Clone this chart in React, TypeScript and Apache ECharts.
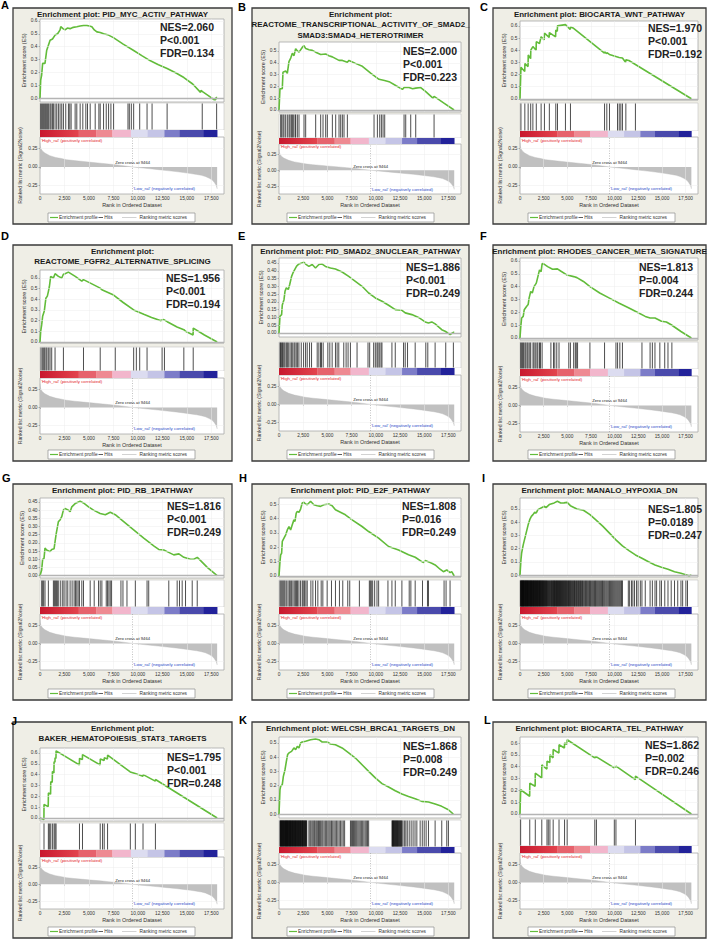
import React, { useEffect, useRef } from "react";
import * as echarts from "echarts";

// ---------------- DATA ----------------
const panelLetters = ["A", "B", "C", "D", "E", "F", "G", "H", "I", "J", "K", "L"];
const panelTitles: string[][] = [
  ["Enrichment plot: PID_MYC_ACTIV_PATHWAY"],
  ["Enrichment plot:", "REACTOME_TRANSCRIPTIONAL_ACTIVITY_OF_SMAD2_", "SMAD3:SMAD4_HETEROTRIMER"],
  ["Enrichment plot: BIOCARTA_WNT_PATHWAY"],
  ["Enrichment plot:", "REACTOME_FGFR2_ALTERNATIVE_SPLICING"],
  ["Enrichment plot: PID_SMAD2_3NUCLEAR_PATHWAY"],
  ["Enrichment plot: RHODES_CANCER_META_SIGNATURE"],
  ["Enrichment plot: PID_RB_1PATHWAY"],
  ["Enrichment plot: PID_E2F_PATHWAY"],
  ["Enrichment plot: MANALO_HYPOXIA_DN"],
  ["Enrichment plot:", "BAKER_HEMATOPOIESIS_STAT3_TARGETS"],
  ["Enrichment plot: WELCSH_BRCA1_TARGETS_DN"],
  ["Enrichment plot: BIOCARTA_TEL_PATHWAY"],
];
const nesValues = ["2.060", "2.000", "1.970", "1.956", "1.886", "1.813", "1.816", "1.808", "1.805", "1.795", "1.868", "1.862"];
const pValues = ["P<0.001", "P<0.001", "P<0.001", "P<0.001", "P<0.001", "P=0.004", "P<0.001", "P=0.016", "P=0.0189", "P<0.001", "P=0.008", "P=0.002"];
const fdrValues = ["0.134", "0.223", "0.192", "0.194", "0.249", "0.244", "0.249", "0.249", "0.247", "0.248", "0.249", "0.246"];

const esTicksTo06 = [0, 0.1, 0.2, 0.3, 0.4, 0.5, 0.6];
const esTicksTo05 = [0, 0.1, 0.2, 0.3, 0.4, 0.5];
const esTicksFine = [0, 0.05, 0.1, 0.15, 0.2, 0.25, 0.3, 0.35, 0.4, 0.45];
const esTickSets = [esTicksTo06, esTicksTo05, esTicksTo06, esTicksTo06, esTicksFine, esTicksTo06, esTicksFine, esTicksTo05, esTicksTo05, esTicksTo06, esTicksTo05, esTicksTo06];

const rankTicks = [0, 2500, 5000, 7500, 10000, 12500, 15000, 17500];
const metricTicks = [-0.25, 0, 0.25];
const zeroCrossRank = 9464;

const rankedMetric = [[0, 0.33], [30, 0.29], [100, 0.25], [250, 0.22], [500, 0.19], [1000, 0.155], [1600, 0.13], [2200, 0.115], [2700, 0.1], [3500, 0.087], [4400, 0.075], [5200, 0.064], [6150, 0.052], [7000, 0.04], [7900, 0.028], [8700, 0.014], [9464, 0], [10300, -0.012], [11280, -0.025], [12100, -0.037], [13000, -0.05], [13900, -0.063], [14700, -0.077], [15400, -0.09], [16000, -0.102], [16500, -0.115], [16900, -0.13], [17300, -0.155], [17600, -0.18], [17800, -0.21], [17950, -0.24], [18050, -0.27], [18100, -0.3]];

const colorBandEdges = [0, 3950, 5740, 7390, 9280, 10990, 12710, 14260, 16730, 18100];

const esCurveA = [[0, 0], [70, 0.14], [170, 0.18], [270, 0.27], [510, 0.27], [680, 0.37], [1030, 0.45], [1280, 0.46], [1540, 0.49], [1800, 0.5], [2050, 0.53], [2120, 0.555], [2350, 0.54], [2560, 0.53], [2800, 0.545], [3080, 0.54], [3400, 0.55], [3760, 0.555], [4100, 0.56], [4450, 0.565], [4790, 0.565], [5050, 0.56], [5300, 0.555], [5550, 0.53], [5810, 0.515], [6150, 0.51], [6500, 0.5], [7000, 0.49], [7500, 0.47], [8500, 0.42], [9570, 0.37], [10400, 0.33], [11280, 0.29], [12100, 0.26], [12990, 0.23], [13900, 0.195], [14700, 0.16], [15600, 0.11], [16400, 0.045], [16450, 0.06], [16600, 0.05], [17200, 0.02], [17770, -0.012], [17950, -0.012], [18000, 0.005], [18100, 0.005]];
const esCurveB = [[0, 0], [100, 0.18], [340, 0.18], [410, 0.32], [690, 0.33], [860, 0.31], [1030, 0.41], [1210, 0.44], [1380, 0.48], [1550, 0.46], [1720, 0.52], [1900, 0.5], [2070, 0.49], [2400, 0.53], [2580, 0.545], [2760, 0.52], [3100, 0.51], [3450, 0.505], [3790, 0.49], [4310, 0.47], [4820, 0.475], [5150, 0.46], [5510, 0.45], [6200, 0.42], [6550, 0.42], [7060, 0.405], [7230, 0.42], [7900, 0.395], [8610, 0.37], [9500, 0.31], [10330, 0.26], [10900, 0.25], [11370, 0.24], [12100, 0.205], [12750, 0.175], [12920, 0.19], [13430, 0.19], [13800, 0.18], [14120, 0.185], [14640, 0.19], [15160, 0.155], [15900, 0.1], [16020, 0.115], [17000, 0.06], [18085, 0]];
const esCurveC = [[0, 0], [100, 0.26], [500, 0.225], [520, 0.29], [850, 0.265], [870, 0.36], [1120, 0.33], [1140, 0.4], [1360, 0.43], [1700, 0.4], [1720, 0.47], [2060, 0.455], [2230, 0.51], [2560, 0.485], [2580, 0.54], [3080, 0.505], [3100, 0.545], [3760, 0.51], [3780, 0.565], [3940, 0.555], [3960, 0.6], [4800, 0.61], [5300, 0.57], [5330, 0.59], [5660, 0.58], [8920, 0.375], [8940, 0.385], [9160, 0.372], [9180, 0.38], [9440, 0.365], [10470, 0.34], [10820, 0.335], [11150, 0.3], [11180, 0.32], [11500, 0.315], [18100, 0]];
const esCurveD = [[0, 0], [70, 0.1], [170, 0.16], [270, 0.24], [440, 0.29], [600, 0.41], [750, 0.43], [860, 0.475], [960, 0.52], [1030, 0.57], [1090, 0.615], [1370, 0.6], [1540, 0.64], [1880, 0.615], [2220, 0.6], [2390, 0.635], [2560, 0.64], [2900, 0.655], [3600, 0.615], [4270, 0.57], [4440, 0.585], [5300, 0.545], [6150, 0.505], [6320, 0.49], [7520, 0.44], [8500, 0.37], [9570, 0.3], [10600, 0.26], [11400, 0.23], [12300, 0.2], [12650, 0.21], [13000, 0.19], [14000, 0.14], [14700, 0.115], [14870, 0.1], [15640, 0.065], [15660, 0.13], [16800, 0.065], [18100, 0]];
const esCurveE = [[0, 0], [70, 0], [100, 0.107], [270, 0.118], [340, 0.18], [515, 0.214], [620, 0.268], [755, 0.29], [960, 0.28], [1100, 0.31], [1300, 0.364], [1440, 0.386], [1650, 0.411], [1820, 0.43], [2060, 0.444], [2570, 0.455], [2750, 0.443], [3090, 0.428], [3430, 0.44], [3770, 0.418], [4120, 0.44], [4460, 0.443], [4800, 0.428], [5320, 0.418], [5830, 0.411], [6520, 0.392], [7200, 0.364], [7890, 0.332], [8580, 0.3], [9260, 0.257], [9950, 0.225], [10640, 0.2035], [11320, 0.178], [12010, 0.15], [12700, 0.146], [13040, 0.129], [13720, 0.118], [14410, 0.1], [15100, 0.071], [15440, 0.064], [15780, 0.071], [16130, 0.058], [16810, 0.021], [17160, 0.011], [17670, -0.01], [18010, 0.004], [18100, 0.004]];
const esCurveF = [[0, 0], [70, 0.078], [170, 0.155], [340, 0.168], [450, 0.22], [690, 0.245], [860, 0.26], [960, 0.31], [1130, 0.362], [1300, 0.35], [1480, 0.4], [1720, 0.427], [1890, 0.478], [2060, 0.53], [2230, 0.517], [2340, 0.58], [2580, 0.574], [2920, 0.556], [3440, 0.535], [3950, 0.538], [4290, 0.522], [4980, 0.49], [5670, 0.478], [6010, 0.47], [6700, 0.44], [7390, 0.4], [8420, 0.35], [9450, 0.31], [10480, 0.27], [11510, 0.233], [12540, 0.194], [13230, 0.168], [13740, 0.155], [14260, 0.155], [14940, 0.13], [15460, 0.124], [15970, 0.103], [17000, 0.05], [18100, 0]];
const esCurveG = [[0, 0], [170, 0.035], [270, 0.1], [410, 0.106], [510, 0.168], [680, 0.157], [1030, 0.147], [1200, 0.16], [1440, 0.165], [1640, 0.25], [1880, 0.33], [2050, 0.34], [2220, 0.36], [2390, 0.4], [2560, 0.41], [2900, 0.4], [3080, 0.39], [3250, 0.42], [3590, 0.44], [4100, 0.454], [4440, 0.444], [4960, 0.42], [5470, 0.4], [6150, 0.38], [6670, 0.372], [7180, 0.387], [7690, 0.372], [8550, 0.33], [9570, 0.28], [10600, 0.229], [11620, 0.182], [12130, 0.16], [12650, 0.157], [12990, 0.147], [13670, 0.127], [14190, 0.133], [14700, 0.112], [15380, 0.1], [15720, 0.1], [16070, 0.112], [16410, 0.092], [17090, 0.051], [18100, 0]];
const esCurveH = [[0, 0], [70, 0], [100, 0.1], [170, 0.147], [270, 0.158], [340, 0.24], [515, 0.263], [690, 0.286], [860, 0.32], [1030, 0.344], [1200, 0.32], [1370, 0.356], [1540, 0.39], [1650, 0.379], [1780, 0.437], [1890, 0.449], [2060, 0.442], [2230, 0.465], [2400, 0.507], [2570, 0.512], [2750, 0.5], [2920, 0.495], [3260, 0.519], [3600, 0.495], [3950, 0.488], [4290, 0.484], [4630, 0.495], [5150, 0.5], [5490, 0.488], [5830, 0.46], [6860, 0.425], [7550, 0.39], [8580, 0.344], [9260, 0.309], [10290, 0.263], [11320, 0.205], [12350, 0.181], [13380, 0.147], [14070, 0.13], [14750, 0.1], [14930, 0.093], [15100, 0.107], [15610, 0.093], [15780, 0.088], [16130, 0.077], [16640, 0.047], [16980, 0.03], [17330, 0.042], [17670, 0.023], [17840, 0.03], [18100, 0]];
const esCurveI = [[0, 0], [70, 0], [100, 0.114], [170, 0.165], [340, 0.228], [515, 0.279], [690, 0.33], [860, 0.38], [1030, 0.419], [1200, 0.444], [1370, 0.457], [1550, 0.475], [1720, 0.47], [1890, 0.495], [2230, 0.508], [2580, 0.52], [2750, 0.51], [3090, 0.533], [3610, 0.546], [3950, 0.558], [4300, 0.545], [4640, 0.546], [4980, 0.55], [5320, 0.525], [6010, 0.5], [6700, 0.49], [7390, 0.457], [8070, 0.414], [8760, 0.368], [9450, 0.317], [10130, 0.266], [10820, 0.22], [11510, 0.185], [12190, 0.152], [12880, 0.127], [13570, 0.1], [14260, 0.076], [14940, 0.058], [15630, 0.043], [16320, 0.025], [17000, 0.013], [17860, -0.005], [18100, 0]];
const esCurveJ = [[0, 0], [400, -0.015], [410, 0.125], [840, 0.105], [860, 0.23], [1080, 0.22], [1100, 0.335], [1250, 0.33], [1270, 0.43], [1420, 0.415], [1440, 0.52], [1530, 0.515], [1540, 0.555], [1630, 0.55], [1645, 0.62], [4020, 0.49], [4040, 0.55], [4330, 0.54], [4345, 0.585], [6140, 0.49], [6160, 0.545], [6550, 0.53], [6570, 0.555], [6890, 0.545], [6910, 0.58], [9220, 0.425], [9240, 0.43], [9730, 0.41], [9750, 0.415], [10520, 0.385], [10540, 0.4], [11780, 0.34], [11800, 0.355], [18100, 0]];
const esCurveK = [[0, 0], [70, 0], [100, 0.17], [170, 0.195], [340, 0.207], [450, 0.265], [620, 0.312], [760, 0.37], [890, 0.418], [1030, 0.43], [1300, 0.441], [1540, 0.465], [1720, 0.453], [1890, 0.476], [2060, 0.465], [2230, 0.5], [2400, 0.507], [2750, 0.512], [3260, 0.523], [3770, 0.528], [4120, 0.523], [4460, 0.507], [4980, 0.507], [5320, 0.493], [5830, 0.488], [6520, 0.465], [7200, 0.43], [7890, 0.394], [8580, 0.347], [9260, 0.3], [9950, 0.254], [10640, 0.214], [11320, 0.19], [12010, 0.164], [12700, 0.141], [13380, 0.124], [14070, 0.108], [14750, 0.089], [15440, 0.085], [16130, 0.07], [16810, 0.054], [17500, 0.03], [18010, 0]];
const esCurveL = [[0, 0], [60, 0], [70, 0.205], [1020, 0.15], [1035, 0.26], [1600, 0.235], [1615, 0.345], [2290, 0.305], [2305, 0.415], [2840, 0.38], [2855, 0.445], [3150, 0.435], [3165, 0.5], [3490, 0.475], [3505, 0.545], [4110, 0.515], [4125, 0.585], [4690, 0.558], [4705, 0.6], [4970, 0.59], [4985, 0.628], [7890, 0.475], [7905, 0.483], [8060, 0.477], [8075, 0.483], [9950, 0.39], [9965, 0.402], [10120, 0.396], [10135, 0.405], [12180, 0.29], [12195, 0.32], [18100, 0]];
const esCurves = [esCurveA, esCurveB, esCurveC, esCurveD, esCurveE, esCurveF, esCurveG, esCurveH, esCurveI, esCurveJ, esCurveK, esCurveL];

const hitsA = [68, 171, 273, 376, 479, 581, 684, 786, 889, 1025, 1128, 1265, 1367, 1538, 1709, 1880, 2051, 2222, 2393, 2632, 2905, 3042, 3179, 3589, 3760, 4102, 4375, 4683, 4854, 5127, 5640, 6016, 6152, 6494, 6768, 7007, 7246, 7520, 8989, 9126, 9331, 9570, 10186, 10938, 11450, 12988, 16577, 18047];
const hitsB = [172, 276, 413, 517, 689, 861, 1033, 1137, 1275, 1378, 1481, 1654, 1722, 1895, 2067, 2584, 2756, 3789, 4306, 4547, 4823, 4995, 5512, 5856, 6201, 6373, 6545, 6717, 7062, 9818, 10162, 10404, 10576, 10748, 10920, 12918, 13091, 13607, 14124, 16019];
const hitsC = [100, 510, 860, 1130, 1360, 1720, 2230, 2580, 3100, 3780, 3960, 4800, 5330, 8930, 9170, 9450, 10300, 10480, 10650, 10820, 11180, 12190];
const hitsD = [103, 239, 376, 479, 615, 718, 889, 1025, 1196, 1538, 2393, 4443, 6152, 7690, 9570, 9844, 10186, 10938, 12476, 12715, 14697, 15654];
const hitsE = [103, 172, 240, 343, 412, 515, 618, 755, 858, 961, 1132, 1269, 1372, 1544, 1647, 1784, 1921, 2059, 2299, 2539, 2745, 2916, 3157, 3362, 3946, 4117, 4289, 4392, 4563, 5044, 5249, 5490, 5833, 6004, 6176, 6690, 6931, 7136, 7377, 8063, 9195, 9367, 9778, 9950, 10121, 10224, 10361, 10533, 10636, 11665, 12009, 12866, 13038, 13278, 14067, 15165, 15371, 16126, 17224, 18013];
const hitsF = [69, 172, 275, 378, 515, 618, 756, 859, 1031, 1134, 1374, 1477, 1614, 1786, 1889, 2061, 2164, 2336, 3263, 3538, 3675, 3882, 4122, 5153, 5324, 5668, 5840, 5943, 6080, 7385, 8931, 10133, 10305, 10545, 10820, 12881, 13740, 13981, 14255, 14770, 15286, 15629, 16041];
const hitsG = [171, 273, 376, 513, 855, 1367, 1470, 1572, 1675, 1777, 1914, 2119, 2324, 2461, 2666, 2837, 3076, 3281, 3486, 3623, 3760, 3897, 4033, 4272, 4443, 5127, 5537, 5981, 6152, 6323, 6768, 6904, 7041, 7178, 7315, 8271, 8477, 8887, 9741, 10938, 11109, 13159, 14014, 14253, 14527, 14868, 15552, 16065];
const hitsH = [103, 206, 309, 412, 515, 618, 755, 926, 1064, 1167, 1304, 1441, 1578, 1716, 1818, 1921, 2059, 2230, 2402, 2505, 2642, 2779, 2916, 3294, 3500, 3774, 4014, 4357, 4529, 4975, 5421, 5833, 6244, 6588, 7102, 7308, 8303, 9332, 9435, 9538, 9675, 9881, 10121, 10293, 11254, 11665, 12009, 12695, 13450, 13621, 14067, 14822, 15337, 15440, 17052, 17258, 17669];
const hitsI = [40, 75, 110, 140, 170, 205, 240, 270, 300, 330, 360, 390, 420, 460, 500, 530, 560, 595, 630, 665, 700, 730, 760, 795, 830, 865, 900, 940, 980, 1015, 1050, 1085, 1120, 1155, 1190, 1225, 1260, 1300, 1340, 1375, 1410, 1445, 1480, 1520, 1560, 1595, 1630, 1670, 1710, 1750, 1790, 1825, 1860, 1900, 1940, 1980, 2020, 2060, 2100, 2140, 2180, 2220, 2260, 2305, 2350, 2390, 2430, 2475, 2520, 2565, 2610, 2655, 2700, 2750, 2800, 2850, 2900, 2960, 3020, 3075, 3130, 3190, 3250, 3300, 3350, 3405, 3460, 3510, 3560, 3605, 3650, 3705, 3760, 3810, 3860, 3910, 3960, 4015, 4070, 4120, 4170, 4225, 4280, 4335, 4390, 4445, 4500, 4555, 4610, 4665, 4720, 4775, 4830, 4885, 4940, 5000, 5060, 5120, 5180, 5240, 5300, 5360, 5420, 5490, 5560, 5625, 5690, 5755, 5820, 5890, 5960, 6030, 6100, 6170, 6240, 6310, 6380, 6450, 6520, 6600, 6680, 6765, 6850, 6930, 7010, 7095, 7180, 7265, 7350, 7435, 7520, 7610, 7700, 7790, 7880, 7965, 8050, 8140, 8230, 8325, 8420, 8520, 8620, 8710, 8800, 8900, 9000, 9110, 9220, 9335, 9450, 9550, 9650, 9750, 9850, 9950, 10050, 10150, 10250, 10350, 10450, 10550, 10650, 10735, 10820, 11440, 11580, 11780, 11920, 12090, 12300, 12470, 12710, 12880, 13230, 13740, 13980, 14260, 14430, 14770, 14940, 15290, 15630, 15970, 16320, 16660, 17000, 17180, 17520, 17690];
const hitsJ = [410, 855, 957, 1094, 1265, 1436, 1538, 1641, 4033, 4341, 6152, 6392, 6563, 6904, 9229, 9741, 10527, 11792];
const hitsK = [100, 140, 170, 205, 240, 275, 310, 345, 380, 415, 450, 485, 520, 560, 600, 635, 670, 705, 740, 775, 810, 845, 880, 915, 950, 990, 1030, 1065, 1100, 1135, 1170, 1205, 1240, 1280, 1320, 1360, 1400, 1435, 1470, 1510, 1550, 1590, 1630, 1665, 1700, 1740, 1780, 1820, 1860, 1900, 1940, 1980, 2020, 2060, 2100, 2140, 2180, 2220, 2260, 2305, 2350, 2390, 2430, 2470, 2510, 2555, 2600, 2645, 2690, 2735, 2780, 2825, 2870, 3090, 3200, 3300, 3420, 3530, 3640, 3730, 3850, 3960, 4080, 4190, 4300, 4420, 4530, 4660, 4790, 4920, 5050, 5170, 5290, 5420, 5550, 5680, 5810, 5950, 6080, 6220, 6360, 6500, 6640, 6780, 7380, 7480, 7590, 7700, 7810, 7920, 8030, 8150, 8270, 8390, 8510, 8640, 8770, 8900, 9020, 9140, 9260, 11670, 11720, 11760, 11810, 11850, 11900, 11950, 12000, 12050, 12100, 12150, 12200, 12250, 12300, 12360, 12410, 12470, 12520, 12580, 12630, 12690, 12800, 12950, 13100, 13250, 13450, 13650, 13850, 14050, 14240, 14580, 14800, 15000, 15200, 15440, 16126, 16812, 17330, 17500];
const hitsL = [69, 1031, 1614, 2301, 2851, 2988, 3160, 3504, 4122, 4706, 4981, 7901, 8072, 9962, 10133, 12194];
const hitSets = [hitsA, hitsB, hitsC, hitsD, hitsE, hitsF, hitsG, hitsH, hitsI, hitsJ, hitsK, hitsL];

// ---------------- LAYOUT / STYLE ----------------
const RANK_AXIS_MAX = 18800;
const METRIC_MIN = -0.37;
const METRIC_MAX = 0.41;
const boxX = [13, 252, 493, 13, 252, 493, 13, 252, 493, 13, 252, 493];
const boxY = [8, 8, 8, 245, 245, 245, 484, 484, 484, 722, 722, 722];
const boxWByCol = [219, 217, 213];
const BOX_H = 216;
// [esTop, esBottom, hitsTop, colorbarTop, colorbarBottom(=rankedTop), rankedBottom], relative to box top
const bandOffsets = [
  [11, 94, 95, 122, 129, 186],
  [34, 104, 106, 130, 136, 186],
  [13, 92, 95, 123, 129, 186],
  [25, 98, 102, 126, 133, 189],
  [13, 92, 97, 123, 130, 186],
  [13, 95, 97, 124, 131, 187],
  [14, 94, 96, 123, 130, 186],
  [14, 93, 96, 123, 130, 186],
  [14, 93, 96, 123, 130, 186],
  [26, 99, 101, 128, 135, 187],
  [15, 96, 98, 125, 131, 187],
  [15, 96, 97, 124, 131, 187],
];
const esAxisRange = [[-0.03, 0.615], [-0.017, 0.576], [-0.01, 0.64], [-0.01, 0.675], [-0.026, 0.482], [-0.016, 0.623], [-0.014, 0.474], [-0.007, 0.542], [-0.015, 0.583], [-0.028, 0.646], [-0.028, 0.542], [-0.034, 0.651]];
const nesAnchor = [[160, 27], [403, 50.5], [648, 27.5], [166, 278], [406, 267], [639, 267], [167, 506], [402, 506], [648, 509], [167, 756.5], [403, 745.5], [645, 744.5]];
const letterAnchor = [[1, 5], [238, 6.5], [480, 6.5], [1, 236], [238, 236], [480, 236], [2, 478], [239, 478], [482, 478], [11, 721], [239, 720], [484, 720]];

const FONT = '"Liberation Sans", Arial, Helvetica, sans-serif';
const ES_GREEN = "#62bc3a";
const bandFills: any[] = [
  new echarts.graphic.LinearGradient(0, 0, 1, 0, [
    { offset: 0, color: "#c8182e" },
    { offset: 1, color: "#e3444e" },
  ]),
  "#e6626c",
  "#ee8a92",
  "#f2b6cc",
  "#dcdcf0",
  "#c4c4e6",
  "#7c7cc8",
  "#4a4aac",
  "#22229a",
];

const withCommas = (v: number) => String(Math.round(v)).replace(/\B(?=(\d{3})+(?!\d))/g, ",");

function buildOption(): any {
  const grid: any[] = [];
  const xAxis: any[] = [];
  const yAxis: any[] = [];
  const series: any[] = [];
  const graphic: any[] = [];

  const tickLabel = { fontSize: 4.8, color: "#333", fontFamily: FONT };

  for (let p = 0; p < 12; p++) {
    const col = p % 3;
    const bx = boxX[p];
    const by = boxY[p];
    const bw = boxWByCol[col];
    const [esT, esB, hT, cT, cB, rB] = bandOffsets[p];
    const gl = bx + 27;
    const gw = bw - 35;
    const gi = p * 4;
    const ticks = esTickSets[p];
    const dec = ticks[1] < 0.1 ? 2 : 1;

    grid.push({ left: gl, top: by + esT, width: gw, height: esB - esT, show: true, backgroundColor: "#fff", borderColor: "#a8a8a8", borderWidth: 0.8 });
    grid.push({ left: gl, top: by + hT, width: gw, height: cT - hT, show: true, backgroundColor: "#fff", borderColor: "#c4c4c4", borderWidth: 0.6 });
    grid.push({ left: gl, top: by + cT, width: gw, height: cB - cT, show: true, backgroundColor: "#fff", borderWidth: 0 });
    grid.push({ left: gl, top: by + cB, width: gw, height: rB - cB, show: true, backgroundColor: "#fff", borderColor: "#a8a8a8", borderWidth: 0.8 });

    for (let k = 0; k < 3; k++) {
      xAxis.push({ gridIndex: gi + k, type: "value", min: 0, max: RANK_AXIS_MAX, show: false });
    }
    xAxis.push({
      gridIndex: gi + 3, type: "value", min: 0, max: RANK_AXIS_MAX,
      name: "Rank in Ordered Dataset", nameLocation: "middle", nameGap: 8,
      nameTextStyle: { fontSize: 5.4, color: "#333", fontFamily: FONT },
      axisLine: { show: false },
      axisTick: { show: true, customValues: rankTicks, length: 1.5, lineStyle: { color: "#777", width: 0.5 } },
      axisLabel: { ...tickLabel, customValues: rankTicks, margin: 2, formatter: withCommas },
      splitLine: { show: false },
    });

    yAxis.push({
      gridIndex: gi, type: "value", min: esAxisRange[p][0], max: esAxisRange[p][1],
      name: "Enrichment score (ES)", nameLocation: "middle", nameGap: 9,
      nameTextStyle: { fontSize: 5.4, color: "#333", fontFamily: FONT },
      axisLine: { show: false },
      axisTick: { show: true, customValues: ticks, length: 1.5, lineStyle: { color: "#777", width: 0.5 } },
      axisLabel: { ...tickLabel, customValues: ticks, margin: 2.5, formatter: (v: number) => v.toFixed(dec) },
      splitLine: { show: false },
    });
    yAxis.push({ gridIndex: gi + 1, type: "value", min: 0, max: 1, show: false });
    yAxis.push({ gridIndex: gi + 2, type: "value", min: 0, max: 1, show: false });
    yAxis.push({
      gridIndex: gi + 3, type: "value", min: METRIC_MIN, max: METRIC_MAX,
      name: "Ranked list metric (Signal2Noise)", nameLocation: "middle", nameGap: 14,
      nameTextStyle: { fontSize: 5.2, color: "#333", fontFamily: FONT },
      axisLine: { show: false },
      axisTick: { show: true, customValues: metricTicks, length: 1.5, lineStyle: { color: "#777", width: 0.5 } },
      axisLabel: { ...tickLabel, customValues: metricTicks, margin: 2.5, formatter: (v: number) => v.toFixed(2) },
      splitLine: { show: false },
    });

    series.push({
      type: "line", xAxisIndex: gi, yAxisIndex: gi, data: [[0, 0]], showSymbol: false, silent: true, z: 1,
      lineStyle: { opacity: 0 },
      markLine: {
        silent: true, symbol: ["none", "none"], label: { show: false }, animation: false,
        lineStyle: { color: "#ededed", width: 0.5, type: "solid" },
        data: [
          ...rankTicks.slice(1).map((v) => ({ xAxis: v })),
          ...ticks.slice(1).map((v) => ({ yAxis: v })),
          { yAxis: 0, lineStyle: { color: "#b4b4b4", width: 1.3, type: "solid" } },
        ],
      },
    });
    series.push({
      type: "line", xAxisIndex: gi, yAxisIndex: gi, data: esCurves[p], showSymbol: false, z: 3,
      lineStyle: { color: ES_GREEN, width: 1.6 }, silent: true,
    });
    series.push({
      type: "custom", xAxisIndex: gi + 1, yAxisIndex: gi + 1, silent: true,
      data: hitSets[p].map((r) => [r, 0.5]),
      renderItem: (params: any, api: any) => {
        const x = api.coord([api.value(0), 0])[0];
        const cs = params.coordSys;
        return {
          type: "line",
          shape: { x1: x, y1: cs.y + 0.5, x2: x, y2: cs.y + cs.height - 0.5 },
          style: { stroke: "rgba(0,0,0,0.78)", lineWidth: 0.9 },
        };
      },
    });
    series.push({
      type: "custom", xAxisIndex: gi + 2, yAxisIndex: gi + 2, silent: true,
      data: colorBandEdges.slice(0, -1).map((e, i) => [e, colorBandEdges[i + 1], i]),
      encode: { x: [0, 1] },
      renderItem: (params: any, api: any) => {
        const x1 = api.coord([api.value(0), 0])[0];
        const x2 = api.coord([api.value(1), 0])[0];
        const cs = params.coordSys;
        return {
          type: "rect",
          shape: { x: x1, y: cs.y, width: x2 - x1 + 0.3, height: cs.height },
          style: { fill: bandFills[api.value(2)] },
        };
      },
    });
    series.push({
      type: "line", xAxisIndex: gi + 3, yAxisIndex: gi + 3, data: [[0, 0]], showSymbol: false, silent: true, z: 1,
      lineStyle: { opacity: 0 },
      markLine: {
        silent: true, symbol: ["none", "none"], label: { show: false }, animation: false,
        lineStyle: { color: "#ededed", width: 0.5, type: "solid" },
        data: [...rankTicks.slice(1).map((v) => ({ xAxis: v })), { yAxis: 0.25 }, { yAxis: -0.25 }],
      },
    });
    series.push({
      type: "line", xAxisIndex: gi + 3, yAxisIndex: gi + 3, data: rankedMetric, showSymbol: false, silent: true, z: 2,
      lineStyle: { width: 0.4, color: "#b8b8b8" },
      areaStyle: { color: "#c0c0c0", opacity: 1 },
      markLine: {
        silent: true, symbol: ["none", "none"], label: { show: false }, animation: false,
        data: [{ xAxis: zeroCrossRank, lineStyle: { color: "#9a9a9a", width: 0.6, type: [1, 1.5] } }],
      },
      markPoint: {
        silent: true, animation: false, symbol: "circle", symbolSize: 0.01,
        itemStyle: { color: "rgba(0,0,0,0)" },
        data: [
          { coord: [120, 0.365], label: { show: true, position: "right", distance: 0, formatter: "'High_ral' (positively correlated)", fontSize: 4.4, color: "#e3242b", fontFamily: FONT } },
          { coord: [zeroCrossRank, 0.062], label: { show: true, position: "inside", formatter: "Zero cross at " + zeroCrossRank, fontSize: 4.2, color: "#222", fontFamily: FONT } },
          { coord: [zeroCrossRank + 60, -0.292], label: { show: true, position: "right", distance: 0, formatter: "'Low_ral' (negatively correlated)", fontSize: 4.4, color: "#2a48c8", fontFamily: FONT } },
        ],
      },
    });

    graphic.push({
      type: "rect", z: -10, silent: true,
      shape: { x: bx, y: by, width: bw, height: BOX_H },
      style: { fill: "#efeee6", stroke: "#3a3a3a", lineWidth: 1.3 },
    });
    graphic.push({
      type: "text", z: 50, silent: true, x: letterAnchor[p][0], y: letterAnchor[p][1],
      style: { text: panelLetters[p], font: `bold 11px ${FONT}`, fill: "#000", textAlign: "left", textVerticalAlign: "middle" },
    });
    panelTitles[p].forEach((line, i) => {
      graphic.push({
        type: "text", z: 50, silent: true, x: bx + bw / 2, y: by + 6.5 + i * 10.3,
        style: { text: line, font: `bold 7.95px ${FONT}`, fill: "#1a1a1a", textAlign: "center", textVerticalAlign: "middle" },
      });
    });
    const statLines = ["NES=" + nesValues[p], pValues[p], "FDR=" + fdrValues[p]];
    statLines.forEach((s, i) => {
      graphic.push({
        type: "text", z: 50, silent: true, x: nesAnchor[p][0], y: nesAnchor[p][1] + i * 13,
        style: { text: s, font: `bold 10.5px ${FONT}`, fill: "#222", textAlign: "left", textVerticalAlign: "middle" },
      });
    });
    const lx = bx + 35;
    const ly = by + 205;
    const lmid = ly + 4.5;
    graphic.push({ type: "rect", z: 50, silent: true, shape: { x: lx, y: ly, width: 147, height: 9 }, style: { fill: "#fff", stroke: "#8c8c8c", lineWidth: 0.7 } });
    graphic.push({ type: "line", z: 51, silent: true, shape: { x1: lx + 2, y1: lmid, x2: lx + 10, y2: lmid }, style: { stroke: ES_GREEN, lineWidth: 1.2 } });
    graphic.push({ type: "text", z: 51, silent: true, x: lx + 11, y: lmid, style: { text: "Enrichment profile", font: `4.8px ${FONT}`, fill: "#333", textAlign: "left", textVerticalAlign: "middle" } });
    graphic.push({ type: "line", z: 51, silent: true, shape: { x1: lx + 50.5, y1: lmid, x2: lx + 55, y2: lmid }, style: { stroke: "#333", lineWidth: 0.8 } });
    graphic.push({ type: "text", z: 51, silent: true, x: lx + 56.3, y: lmid, style: { text: "Hits", font: `4.8px ${FONT}`, fill: "#333", textAlign: "left", textVerticalAlign: "middle" } });
    graphic.push({ type: "line", z: 51, silent: true, shape: { x1: lx + 74, y1: lmid, x2: lx + 88.5, y2: lmid }, style: { stroke: "#c6c6c6", lineWidth: 0.8 } });
    graphic.push({ type: "text", z: 51, silent: true, x: lx + 91.5, y: lmid, style: { text: "Ranking metric scores", font: `4.8px ${FONT}`, fill: "#333", textAlign: "left", textVerticalAlign: "middle" } });
  }

  return {
    animation: false,
    backgroundColor: "#ffffff",
    textStyle: { fontFamily: FONT },
    grid,
    xAxis,
    yAxis,
    series,
    graphic: { elements: graphic },
  };
}

export default function App() {
  const ref = useRef<HTMLDivElement>(null);
  useEffect(() => {
    if (!ref.current) return;
    const chart = echarts.init(ref.current, null, { renderer: "svg", width: 709, height: 940 });
    chart.setOption(buildOption());
    return () => chart.dispose();
  }, []);
  return (
    <div
      ref={ref}
      style={{ position: "fixed", left: 0, top: 0, width: 709, height: 940, background: "#fff" }}
    />
  );
}
